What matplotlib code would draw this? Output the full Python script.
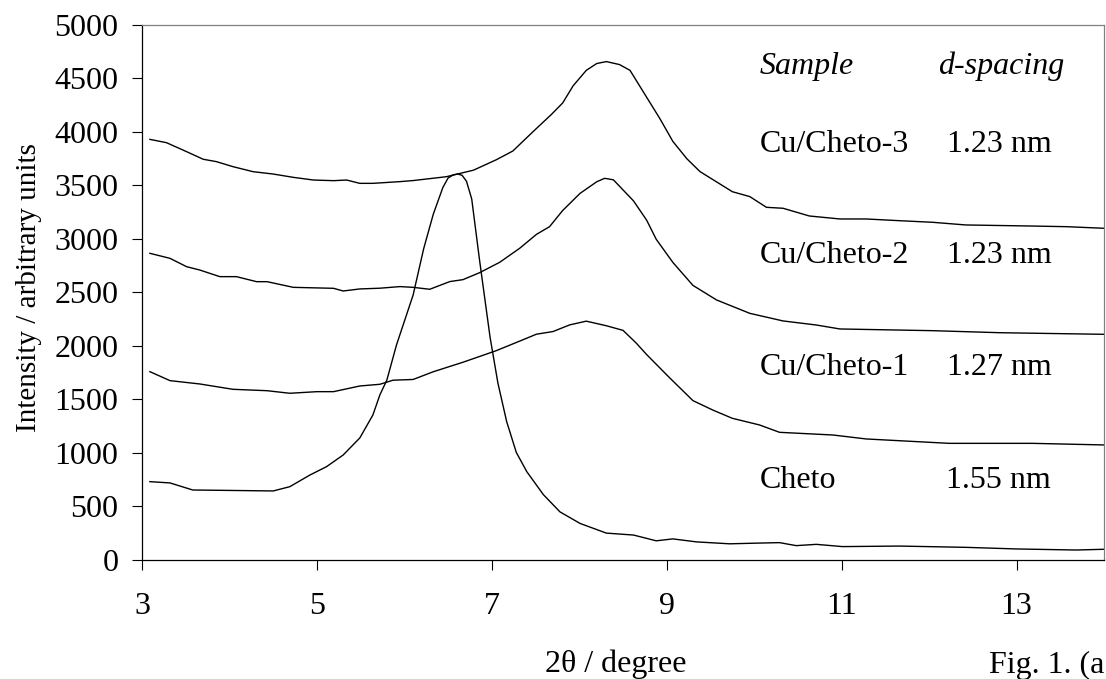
import matplotlib
matplotlib.use("Agg")
import matplotlib.pyplot as plt

plt.rcParams['font.family'] = ['Liberation Serif', 'DejaVu Serif']

# XRD patterns (2theta in degrees, intensity in a.u.)
cheto_x = [3.09, 3.32, 3.58, 4.0, 4.5, 4.69, 4.92, 5.11, 5.30, 5.49, 5.64, 5.72, 5.80,
           5.91, 6.10, 6.22, 6.33, 6.44, 6.50, 6.56, 6.61, 6.66, 6.71, 6.77, 6.86, 6.98, 7.07,
           7.17, 7.28, 7.40, 7.59, 7.78, 8.01, 8.31, 8.62, 8.88, 9.07, 9.34, 9.72,
           10.06, 10.29, 10.48, 10.71, 11.01, 11.66, 12.42, 13.0, 13.68, 14.0]
cheto_y = [732, 720, 654, 650, 645, 685, 794, 872, 981, 1140, 1355, 1543, 1682,
           2010, 2476, 2907, 3230, 3481, 3570, 3600, 3607, 3595, 3540, 3374, 2800, 2081, 1651,
           1292, 1005, 825, 610, 449, 341, 251, 233, 179, 197, 169, 151,
           158, 162, 134, 146, 125, 130, 118, 103, 93, 100]

cu1_x = [3.09, 3.32, 3.66, 4.04, 4.43, 4.69, 5.0, 5.19, 5.49, 5.72, 5.87, 6.10, 6.33,
         6.67, 7.05, 7.32, 7.51, 7.70, 7.89, 8.08, 8.31, 8.50, 8.65, 8.77, 9.03,
         9.30, 9.53, 9.75, 10.06, 10.29, 10.90, 11.28, 12.23, 13.18, 14.0]
cu1_y = [1760, 1676, 1645, 1595, 1582, 1558, 1573, 1573, 1626, 1642, 1680, 1687, 1759,
         1848, 1956, 2046, 2110, 2135, 2197, 2232, 2189, 2146, 2028, 1920, 1705,
         1489, 1400, 1324, 1262, 1193, 1168, 1131, 1090, 1090, 1075]

cu2_x = [3.09, 3.32, 3.51, 3.66, 3.89, 4.08, 4.31, 4.43, 4.73, 5.19, 5.30, 5.49, 5.72,
         5.95, 6.10, 6.29, 6.52, 6.67, 6.86, 7.09, 7.32, 7.51, 7.66, 7.81, 8.01,
         8.20, 8.29, 8.39, 8.62, 8.77, 8.88, 9.07, 9.30, 9.57, 9.95, 10.33, 10.71,
         10.98, 12.04, 12.81, 14.0]
cu2_y = [2866, 2819, 2741, 2710, 2648, 2648, 2601, 2601, 2548, 2539, 2514, 2533, 2540,
         2555, 2548, 2530, 2602, 2620, 2685, 2782, 2914, 3043, 3115, 3266, 3427,
         3535, 3567, 3553, 3356, 3176, 2997, 2781, 2566, 2430, 2305, 2234, 2196,
         2159, 2143, 2124, 2109]

cu3_x = [3.09, 3.28, 3.51, 3.70, 3.85, 4.04, 4.27, 4.50, 4.73, 4.96, 5.19, 5.34, 5.49,
         5.64, 5.95, 6.10, 6.48, 6.79, 7.05, 7.24, 7.47, 7.68, 7.81, 7.93, 8.08,
         8.20, 8.31, 8.46, 8.58, 8.77, 8.92, 9.07, 9.23, 9.38, 9.75, 9.95, 10.14, 10.33,
         10.63, 10.98, 11.28, 11.66, 12.04, 12.42, 13.18, 13.57, 14.0]
cu3_y = [3931, 3900, 3816, 3745, 3723, 3676, 3629, 3607, 3576, 3551, 3545, 3551, 3520,
         3520, 3536, 3546, 3582, 3643, 3740, 3822, 4002, 4163, 4271, 4432, 4576,
         4640, 4658, 4630, 4576, 4325, 4127, 3912, 3750, 3630, 3442, 3396, 3296, 3287,
         3215, 3187, 3187, 3171, 3156, 3131, 3121, 3115, 3100]

samples = ['Cu/Cheto-3', 'Cu/Cheto-2', 'Cu/Cheto-1', 'Cheto']
spacings = ['1.23 nm', '1.23 nm', '1.27 nm', '1.55 nm']
label_y = [3813, 2776, 1729, 673]      # baselines, data units
spacing_x = [12.21, 12.21, 12.21, 12.19]

x_ticks = [3, 5, 7, 9, 11, 13]
y_ticks = [0, 500, 1000, 1500, 2000, 2500, 3000, 3500, 4000, 4500, 5000]

fs = 23

fig = plt.figure(figsize=(11.06, 6.79), dpi=100)
ax = fig.add_axes([0.1284, 0.1753, 0.8698, 0.7879])

for xs, ys in [(cheto_x, cheto_y), (cu1_x, cu1_y), (cu2_x, cu2_y), (cu3_x, cu3_y)]:
    ax.plot(xs, ys, color='black', linewidth=1.0)

ax.set_xlim(3, 14)
ax.set_ylim(0, 5000)
ax.set_xticks(x_ticks)
ax.set_yticks(y_ticks)
ax.tick_params(axis='both', direction='out', length=7, width=0.8, labelsize=fs,
               colors='black')
ax.tick_params(axis='x', pad=16)
ax.tick_params(axis='y', pad=10)

for side in ['top', 'right']:
    ax.spines[side].set_color('#808080')
    ax.spines[side].set_linewidth(0.9)
for side in ['left', 'bottom']:
    ax.spines[side].set_linewidth(0.9)

# header + sample table inside the plot
ax.text(10.06, 4542, 'Sample', fontsize=fs, style='italic', va='baseline')
ax.text(12.1, 4542, 'd-spacing', fontsize=fs, style='italic', va='baseline')
for name, sp, yy, sx in zip(samples, spacings, label_y, spacing_x):
    ax.text(10.06, yy, name, fontsize=fs, va='baseline')
    ax.text(sx, yy, sp, fontsize=fs, va='baseline')

fig.text(29.5 / 1106, 1 - 288 / 679, 'Intensity / arbitrary units', fontsize=21,
         rotation=90, ha='center', va='center')
fig.text(545 / 1106, 1 - 672 / 679, '2θ / degree', fontsize=fs, ha='left', va='baseline')
# the caption is cut by the page edge in the source; keep the visible part inside
fig.text(1104 / 1106, 1 - 673 / 679, 'Fig. 1. (a', fontsize=fs, ha='right', va='baseline')

fig.savefig('out.png', dpi=100)
